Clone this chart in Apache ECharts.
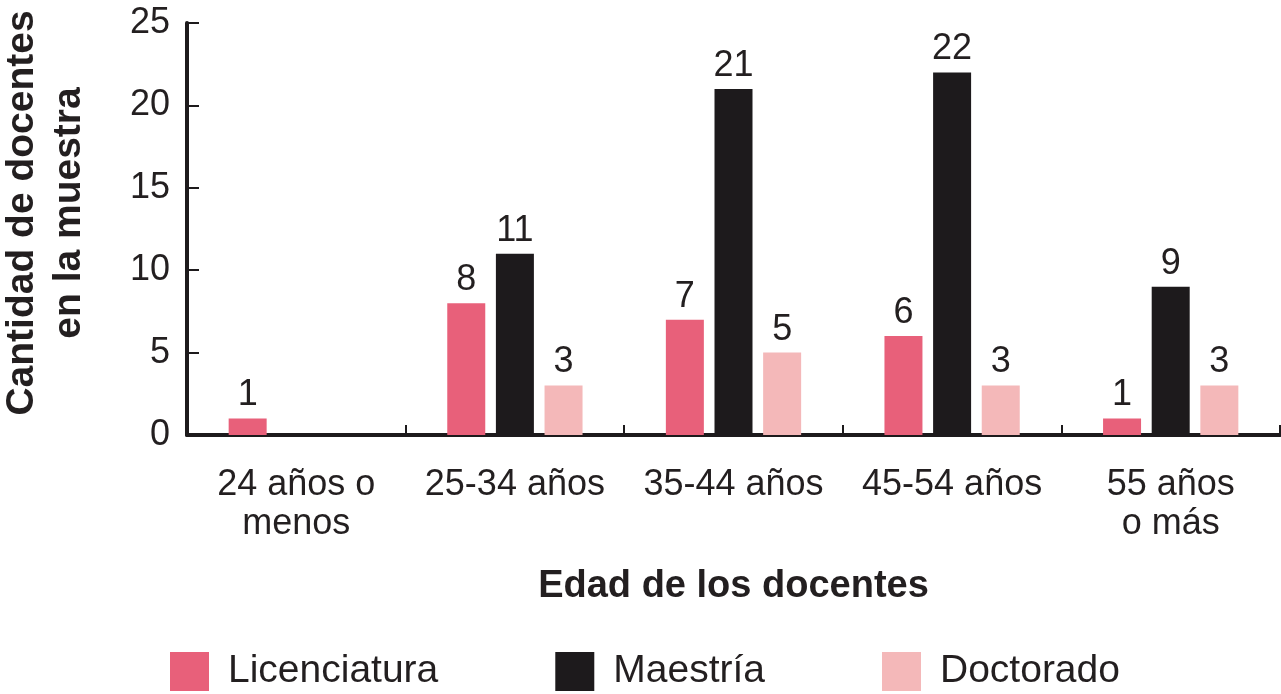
<!DOCTYPE html>
<html>
<head>
<meta charset="utf-8">
<script src="https://cdn.jsdelivr.net/npm/echarts@6/dist/echarts.min.js"></script>
<style>
html,body{margin:0;padding:0;background:#fff;}
#chart{width:1281px;height:694px;}
</style>
</head>
<body>
<div id="chart"></div>
<script>
var categories = ['24 años o\nmenos', '25-34 años', '35-44 años', '45-54 años', '55 años\no más'];
var licenciatura = [1, 8, 7, 6, 1];
var maestria = [0, 11, 21, 22, 9];
var doctorado = [0, 3, 5, 3, 3];
var yTicks = [0, 5, 10, 15, 20, 25];

var textColor = '#231f20';
var font = 'Liberation Sans';

function barLabel() {
  return {
    show: true, position: 'top', distance: 5,
    fontFamily: font, fontSize: 36, lineHeight: 36, color: textColor,
    formatter: function (p) { return p.value === 0 ? '' : String(p.value); }
  };
}

var chart = echarts.init(document.getElementById('chart'));
chart.setOption({
  animation: false,
  backgroundColor: '#ffffff',
  grid: { left: 187, right: 1, top: 23, bottom: 259, containLabel: false, outerBoundsMode: 'none' },
  legend: {
    left: 170, top: 652, padding: 0,
    itemWidth: 39, itemHeight: 39, itemGap: 117,
    icon: 'rect',
    textStyle: { fontFamily: font, fontSize: 39, color: textColor, padding: [0, 0, 0, 14] },
    data: ['Licenciatura', 'Maestría', 'Doctorado']
  },
  xAxis: {
    type: 'category',
    data: categories,
    name: 'Edad de los docentes',
    nameLocation: 'middle',
    nameGap: 133,
    nameTextStyle: { fontFamily: font, fontSize: 38, fontWeight: 'bold', color: textColor, lineHeight: 38 },
    axisLine: { lineStyle: { color: '#1d1a1c', width: 4 } },
    axisTick: { show: true, inside: true, length: 10, lineStyle: { color: '#1d1a1c', width: 2 } },
    axisLabel: { fontFamily: font, fontSize: 36, lineHeight: 39, color: textColor, margin: 31, interval: 0 },
    splitLine: { show: false }
  },
  yAxis: {
    type: 'value',
    min: yTicks[0], max: yTicks[yTicks.length - 1], interval: 5,
    name: 'Cantidad de docentes\nen la muestra',
    nameLocation: 'middle',
    nameRotate: 90,
    nameGap: 94,
    nameTextStyle: { fontFamily: font, fontSize: 39, fontWeight: 'bold', color: textColor, lineHeight: 47, padding: [0, 0, 0, 32] },
    axisLine: { show: true, lineStyle: { color: '#1d1a1c', width: 4 } },
    axisTick: { show: true, inside: true, length: 12, lineStyle: { color: '#1d1a1c', width: 2 } },
    axisLabel: { fontFamily: font, fontSize: 36, color: textColor, margin: 17 },
    splitLine: { show: false }
  },
  series: [
    { name: 'Licenciatura', type: 'bar', data: licenciatura, barWidth: 38, barGap: '28%',
      itemStyle: { color: '#e8607a' }, label: barLabel() },
    { name: 'Maestría', type: 'bar', data: maestria, barWidth: 38, barGap: '28%',
      itemStyle: { color: '#1d1a1c' }, label: barLabel() },
    { name: 'Doctorado', type: 'bar', data: doctorado, barWidth: 38, barGap: '28%',
      itemStyle: { color: '#f4b8b9' }, label: barLabel() }
  ]
});
</script>
</body>
</html>
